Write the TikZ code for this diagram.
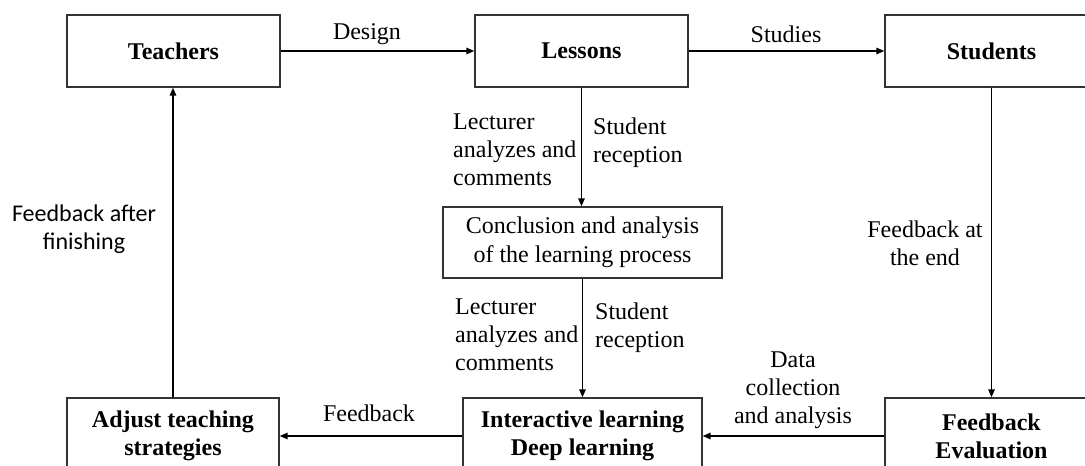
\documentclass[tikz,border=0pt]{standalone}
\usepackage{fontspec}
\setmainfont{Liberation Serif}
\newfontfamily\calibrifont{Carlito}
\usetikzlibrary{arrows.meta}

\tikzset{
  txt/.style={font=\fontsize{24}{28}\selectfont, inner sep=0pt},
  stagebox/.style={txt, draw=black!80, line width=1.4pt, fill=white,
    minimum width=213pt, minimum height=72pt, align=center, font=\fontsize{24}{28}\selectfont\bfseries},
  plainbox/.style={stagebox, font=\fontsize{24}{29}\selectfont},
  flow/.style={line width=1.5pt, -{Triangle[length=8pt,width=6.5pt]}},
  lbl/.style={txt, align=center},
  lblleft/.style={txt, align=left, anchor=west},
}

\begin{document}
\begin{tikzpicture}[x=1pt,y=-1pt]
  \useasboundingbox (0,0) rectangle (1085,466);
  \clip (0,0) rectangle (1085,466);

  % top row
  \node[stagebox] (teachers) at (173.5,51) {Teachers};
  \node[stagebox] (lessons)  at (581.5,51) {Lessons};
  \node[stagebox] (students) at (991.5,51) {Students};

  % middle
  \node[plainbox, minimum width=279pt, minimum height=71pt] (concl) at (582.5,242.5)
    {Conclusion and analysis\\of the learning process};

  % bottom row
  \node[stagebox, minimum width=212pt, minimum height=76pt] (adjust) at (173,436)
    {Adjust teaching\\strategies};
  \node[stagebox, minimum width=239pt, minimum height=76pt] (inter) at (582.5,436)
    {Interactive learning\\Deep learning};
  \node[stagebox, minimum height=76pt] (feval) at (991.5,436)
    {Feedback\\Evaluation};

  % connectors
  \draw[flow] (teachers.east) -- (lessons.west);
  \draw[flow] (lessons.east) -- (students.west);
  \draw[flow] (lessons.south) -- (lessons.south |- concl.north);
  \draw[flow] (concl.south) -- (inter.north);
  \draw[flow] (students.south) -- (feval.north);
  \draw[flow] (feval.west) -- (inter.east);
  \draw[flow] (inter.west) -- (adjust.east);
  \draw[flow] (adjust.north) -- (adjust.north |- teachers.south);

  % connector labels
  \node[lbl] (ldesign) at (367,34) {Design};
  \node[lbl] (lstudies) at (786,34) {Studies};
  \node[lblleft] (lect1) at (453,150) {Lecturer\\analyzes and\\comments};
  \node[lblleft] (stud1) at (593,142.5) {Student\\reception};
  \node[lblleft] (lect2) at (455,335) {Lecturer\\analyzes and\\comments};
  \node[lblleft] (stud2) at (595,327.5) {Student\\reception};
  \node[lbl] (lend) at (925,243.5) {Feedback at\\the end};
  \node[lbl] (ldata) at (793,390) {Data\\collection\\and analysis};
  \node[lbl] (lfeed) at (369,413) {Feedback};
  \node[lbl, font=\calibrifont\fontsize{24}{28}\selectfont] (lafter) at (84,229)
    {Feedback after\\finishing};
\end{tikzpicture}
\end{document}
